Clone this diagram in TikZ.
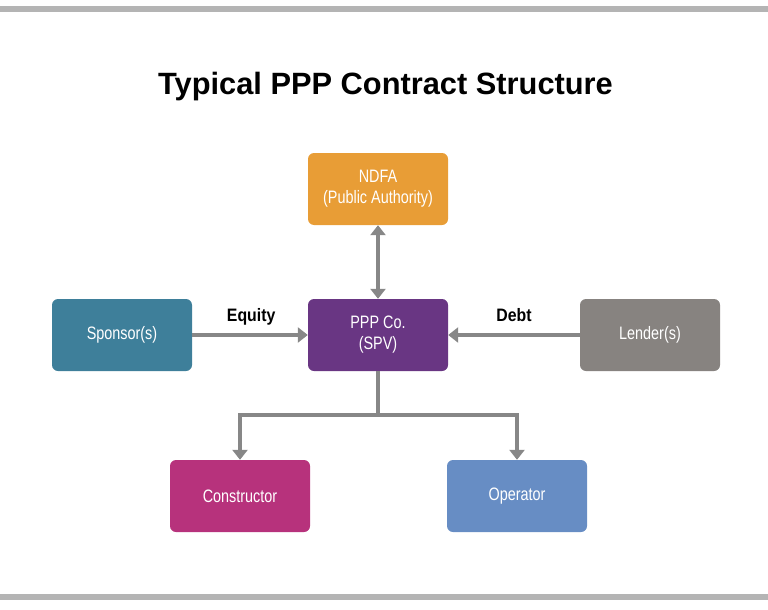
\documentclass[tikz,border=0pt]{standalone}
\usepackage{fontspec}
\setmainfont{Liberation Sans}
\newfontfamily\condfont[FakeStretch=0.8]{Liberation Sans}
\newfontfamily\condbold[FakeStretch=0.88]{Liberation Sans Bold}
\usetikzlibrary{arrows.meta}
\definecolor{bargray}{HTML}{B4B4B4}
\definecolor{arrgray}{HTML}{878787}
\definecolor{cndfa}{HTML}{E89D36}
\definecolor{cppp}{HTML}{693683}
\definecolor{csponsor}{HTML}{3E7F9A}
\definecolor{clender}{HTML}{878380}
\definecolor{cconstr}{HTML}{B7327C}
\definecolor{coper}{HTML}{678DC4}
\tikzset{
  box/.style={rectangle, rounded corners=6pt, minimum width=140pt, minimum height=72pt,
    inner sep=0pt, text=white, align=center,
    font=\condfont\fontsize{18}{21}\selectfont},
  arr/.style={draw=arrgray, line width=3.2pt, -{Triangle[length=10pt,width=15pt]}},
  darr/.style={draw=arrgray, line width=3.2pt, {Triangle[length=10pt,width=15pt]}-{Triangle[length=10pt,width=15pt]}},
  lbl/.style={font=\condbold\fontsize{18}{21}\selectfont, anchor=base, inner sep=0pt},
}
\begin{document}
\begin{tikzpicture}[x=1pt,y=-1pt]
\useasboundingbox (0,0) rectangle (768,610);
\fill[bargray] (0,6) rectangle (768,12);
\fill[bargray] (0,594) rectangle (768,600);
\node[anchor=base, inner sep=0pt, font=\bfseries\fontsize{30.8}{36}\selectfont] (title) at (385.5,94) {Typical PPP Contract Structure};
\node[box, fill=cndfa] (ndfa) at (378,189) {NDFA\\(Public Authority)};
\node[box, fill=cppp] (ppp) at (378,335) {PPP Co.\\(SPV)};
\node[box, fill=csponsor] (sponsor) at (122,335) {Sponsor(s)};
\node[box, fill=clender] (lender) at (650,335) {Lender(s)};
\node[box, fill=cconstr] (constr) at (240,496) {Constructor};
\node[box, fill=coper] (oper) at (517,496) {Operator};
\coordinate (branch) at (378,415);
\draw[darr] (ndfa.south) -- (ppp.north);
\draw[arr] (sponsor.east) -- node[lbl, pos=0.51, yshift=14pt] (equity) {Equity} (ppp.west);
\draw[arr] (lender.west) -- node[lbl, pos=0.5, yshift=14pt] (debt) {Debt} (ppp.east);
\draw[arr] (ppp.south) -- (branch) -| (constr.north);
\draw[arr] (branch) -| (oper.north);
\end{tikzpicture}
\end{document}
